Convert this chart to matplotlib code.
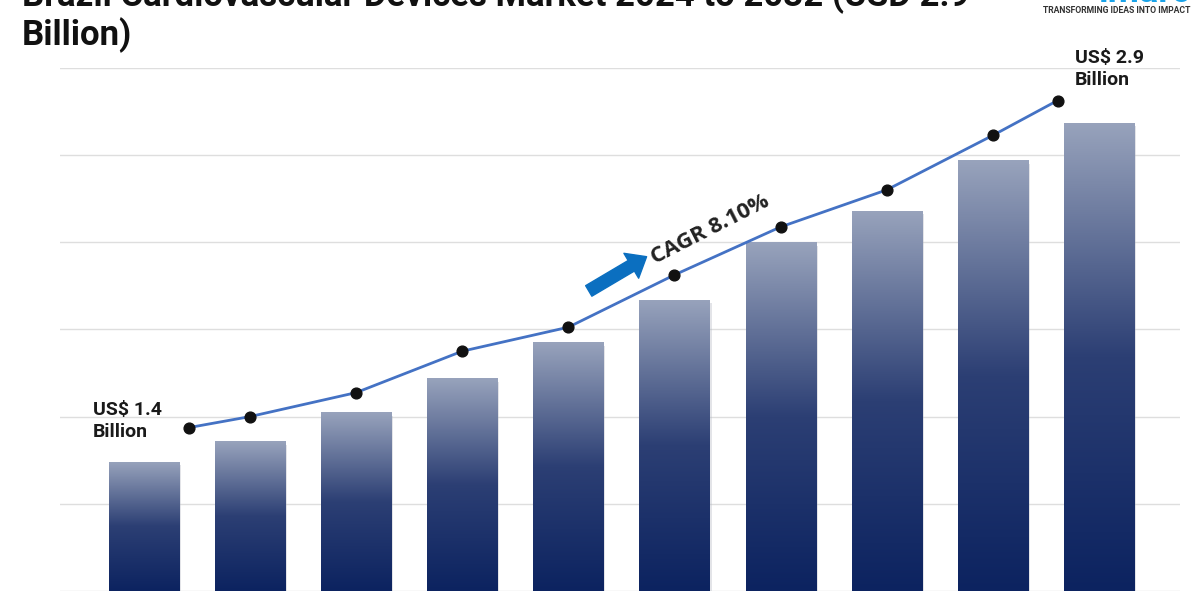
import numpy as np
import matplotlib
matplotlib.use("Agg")
import matplotlib.pyplot as plt
from matplotlib.colors import LinearSegmentedColormap

# data
years = ["2023", "2024", "2025", "2026", "2027", "2028", "2029", "2030", "2031", "2032"]
bar_heights = [1.48, 1.72, 2.05, 2.44, 2.85, 3.34, 4.00, 4.36, 4.94, 5.37]   # decorative bars (grid units)
market_value = [1.40, 1.45, 1.56, 1.75, 1.86, 2.10, 2.32, 2.49, 2.74, 2.90]  # USD billion (line)
title = "Brazil Cardiovascular Devices Market 2024 to 2032 (USD 2.9\nBillion)"
cagr_text = "CAGR 8.10%"
start_label = "US$ 1.4\nBillion"
end_label = "US$ 2.9\nBillion"

plt.rcParams['font.family'] = ['Roboto', 'DejaVu Sans']

fig = plt.figure(figsize=(12, 6), dpi=100)
ax = fig.add_axes([0.05, 0.015, 0.933, 0.872])

x = np.arange(len(years))
bars = ax.bar(x, bar_heights, width=0.66, color='none', edgecolor='none', zorder=2)

# gradient fill for each bar, light slate at top to navy at bottom
cmap = LinearSegmentedColormap.from_list("bargrad", ["#0c2360", "#2c3f74", "#98a3bc"])
grad = np.linspace(0, 1, 256).reshape(-1, 1)
for b in bars:
    x0, y0 = b.get_x(), b.get_y()
    w, h = b.get_width(), b.get_height()
    # soft shadow
    ax.bar(x0 + w / 2 + 0.02, h, width=w, bottom=y0 - 0.04, color='#b0b4bf', alpha=0.35, zorder=1.5)
    im = ax.imshow(grad, cmap=cmap, extent=[x0, x0 + w, y0, y0 + h], origin='lower',
                   aspect='auto', zorder=2)
    im.set_clip_path(b)

ax.set_xlim(-0.79, 9.76)
ax.set_ylim(0, 6)
ax.set_yticks(np.arange(0, 7))
ax.grid(axis='y', color='#dedede', linewidth=1, zorder=0)
ax.set_axisbelow(True)
for s in ax.spines.values():
    s.set_visible(False)

# line on its own scale
ax2 = ax.twinx()
ax.tick_params(left=False, right=False, bottom=False, labelleft=False, labelbottom=False)
ax2.set_ylim(0.65, 3.05)
line_x = x.astype(float)
line_x[0] += 0.43
line_x[-1] -= 0.39
ax2.plot(line_x, market_value, color='#4472c4', linewidth=2, zorder=3)
ax2.scatter(line_x, market_value, s=60, color='#111111', zorder=4)
ax2.axis('off')
ax2.set_xlim(ax.get_xlim())

ax2.text(-0.48, market_value[0] + 0.03, start_label, fontsize=14, fontweight='bold',
         color='#1a1a1a', ha='left', va='center', linespacing=1.25)
ax2.text(line_x[-1] + 0.16, market_value[-1] + 0.145, end_label, fontsize=14, fontweight='bold',
         color='#1a1a1a', ha='left', va='center', linespacing=1.25)

# CAGR arrow and text
ax2.annotate("", xy=(4.76, 2.19), xytext=(4.17, 2.02),
             arrowprops=dict(arrowstyle='simple,head_width=1.3,head_length=0.8,tail_width=0.55',
                             color='#0b6fc0', mutation_scale=16))
ax2.text(4.84, 2.13, cagr_text, fontsize=16, fontweight='bold', color='#222222',
         family=['Open Sans', 'DejaVu Sans'], rotation=27, rotation_mode='anchor',
         ha='left', va='bottom')

fig.text(0.018, 1 - 53 / 600, title, fontsize=25, fontweight='bold', color='#111111',
         ha='left', va='bottom', linespacing=1.1)

# logo area
fig.text(0.915, 1 - 2.5 / 600, "imarc", fontsize=26, fontweight='bold', color='#1aa3e8',
         ha='left', va='baseline')
fig.text(0.869, 1 - 10.5 / 600, "TRANSFORMING IDEAS INTO IMPACT", fontsize=6.2, fontweight='bold',
         color='#333333', ha='left', va='center')

fig.savefig("out.png", dpi=100)
